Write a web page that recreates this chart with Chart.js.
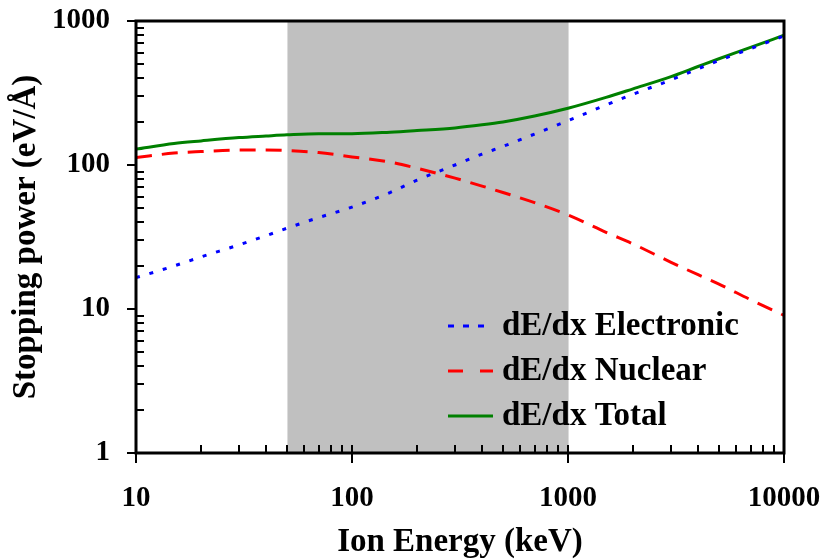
<!DOCTYPE html>
<html>
<head>
<meta charset="utf-8">
<script src="https://cdn.jsdelivr.net/npm/chart.js@4"></script>
<style>
  html, body { margin: 0; padding: 0; background: #fff; }
  canvas { display: block; }
</style>
</head>
<body>
<canvas id="chart" width="825" height="560"></canvas>
<script>
// Ion energy (keV) and stopping power (eV/Å) for each loss channel
const energies   = [10, 15, 20, 30, 40, 50, 70, 100, 150, 200, 300, 400, 500, 700, 1000, 1500, 2000, 3000, 4000, 5000, 7000, 10000];
const electronic = [16.5, 19.9, 23.0, 27.9, 32.3, 36.4, 43.1, 51.0, 64.4, 78.5, 100, 119, 134.6, 164, 203, 261, 310, 390, 466, 532, 643, 788];
const nuclear    = [112.5, 121, 124, 127, 127, 126, 122, 113.8, 104.7, 95, 81, 71.4, 64.4, 54.8, 45, 34.1, 28.3, 21.1, 17.3, 14.9, 11.6, 9.04];
const total      = [129, 141, 147, 155, 159, 162, 165, 165, 169, 173.5, 181, 190, 199, 219, 248, 295, 338, 411, 483, 547, 655, 797];

const seriesNames = ['dE/dx Electronic', 'dE/dx Nuclear', 'dE/dx Total'];
const xTicks = [10, 100, 1000, 10000];
const yTicks = [1, 10, 100, 1000];
const shadedRange = [50, 1000];

const serif = '"Liberation Serif", "Times New Roman", serif';

function points(values) {
  return energies.map((e, i) => ({ x: e, y: values[i] }));
}

// grey band behind the curves, with light edges
const shadePlugin = {
  id: 'shade',
  beforeDatasetsDraw(chart) {
    const { ctx, chartArea: a, scales: { x } } = chart;
    const x0 = Math.round(x.getPixelForValue(shadedRange[0]));
    const x1 = Math.round(x.getPixelForValue(shadedRange[1]));
    ctx.save();
    ctx.fillStyle = '#c0c0c0';
    ctx.fillRect(x0, a.top, x1 - x0, a.bottom - a.top);
    ctx.strokeStyle = '#dcdcdc';
    ctx.lineWidth = 1;
    ctx.beginPath();
    ctx.moveTo(x0 + 0.5, a.top);
    ctx.lineTo(x0 + 0.5, a.bottom);
    ctx.moveTo(x1 + 0.5, a.top);
    ctx.lineTo(x1 + 0.5, a.bottom);
    ctx.stroke();
    ctx.restore();
  }
};

// frame, major ticks outside, minor ticks inside, decade labels on the value axis
const framePlugin = {
  id: 'frame',
  afterDatasetsDraw(chart) {
    const { ctx, chartArea: a, scales: { x, y } } = chart;
    ctx.save();
    ctx.strokeStyle = '#000';
    ctx.lineWidth = 3;
    ctx.beginPath();
    ctx.rect(a.left, a.top, a.right - a.left, a.bottom - a.top);
    ctx.stroke();

    ctx.lineWidth = 2;
    ctx.beginPath();
    yTicks.forEach(v => {
      const py = Math.round(y.getPixelForValue(v));
      ctx.moveTo(a.left - 9, py);
      ctx.lineTo(a.left, py);
    });
    yTicks.slice(0, -1).forEach(d => {
      for (let m = 2; m <= 9; m++) {
        const py = Math.round(y.getPixelForValue(d * m));
        ctx.moveTo(a.left, py);
        ctx.lineTo(a.left + 8, py);
      }
    });
    xTicks.forEach(v => {
      const px = Math.round(x.getPixelForValue(v));
      ctx.moveTo(px, a.bottom - 8);
      ctx.lineTo(px, a.bottom + 10);
    });
    xTicks.slice(0, -1).forEach(d => {
      for (let m = 2; m <= 9; m++) {
        const px = Math.round(x.getPixelForValue(d * m));
        ctx.moveTo(px, a.bottom - 8);
        ctx.lineTo(px, a.bottom);
      }
    });
    ctx.stroke();

    ctx.fillStyle = '#000';
    ctx.font = 'bold 29px ' + serif;
    ctx.textAlign = 'right';
    ctx.textBaseline = 'middle';
    yTicks.forEach(v => {
      ctx.fillText(String(v), a.left - 26, y.getPixelForValue(v));
    });
    ctx.restore();
  }
};

// legend drawn inside the plot, lower right
const legendPlugin = {
  id: 'insideLegend',
  afterDatasetsDraw(chart) {
    const { ctx } = chart;
    const x0 = 448, x1 = 493, tx = 502, y0 = 326, dy = 45;
    ctx.save();
    chart.data.datasets.forEach((ds, i) => {
      const yy = y0 + i * dy;
      ctx.strokeStyle = ds.borderColor;
      ctx.lineWidth = 3;
      ctx.setLineDash(ds.legendDash || []);
      ctx.beginPath();
      ctx.moveTo(x0, yy);
      ctx.lineTo(x1, yy);
      ctx.stroke();
      ctx.setLineDash([]);
      ctx.fillStyle = '#000';
      ctx.font = 'bold 33px ' + serif;
      ctx.textBaseline = 'middle';
      ctx.textAlign = 'left';
      ctx.fillText(ds.label, tx, yy);
    });
    ctx.restore();
  }
};

const tickFont = { family: serif, size: 29, weight: 'bold' };
const titleFont = { family: serif, size: 33, weight: 'bold', lineHeight: 1 };

new Chart(document.getElementById('chart'), {
  type: 'line',
  data: {
    datasets: [
      {
        label: seriesNames[0], data: points(electronic),
        borderColor: '#0000ff', borderWidth: 3, borderDash: [4, 10],
        legendDash: [6, 9]
      },
      {
        label: seriesNames[1], data: points(nuclear),
        borderColor: '#ff0000', borderWidth: 3, borderDash: [16, 10],
        legendDash: [15, 17]
      },
      {
        label: seriesNames[2], data: points(total),
        borderColor: '#008000', borderWidth: 3, borderDash: [],
        legendDash: []
      }
    ]
  },
  options: {
    responsive: false,
    animation: false,
    devicePixelRatio: 1,
    layout: { padding: { top: 21, right: 41, left: 0, bottom: 0 } },
    elements: {
      point: { radius: 0 },
      line: { cubicInterpolationMode: 'monotone', borderCapStyle: 'butt' }
    },
    plugins: { legend: { display: false }, tooltip: { enabled: false } },
    scales: {
      x: {
        type: 'logarithmic', position: 'bottom', min: 10, max: 10000,
        afterBuildTicks: s => { s.ticks = xTicks.map(v => ({ value: v })); },
        afterFit: s => { s.height = 107; s.paddingLeft = 0; s.paddingRight = 0; },
        grid: { display: false, drawTicks: false },
        border: { display: false },
        ticks: {
          font: tickFont, color: '#000', padding: 28, maxRotation: 0, autoSkip: false,
          callback: v => String(v)
        },
        title: { display: true, text: 'Ion Energy (keV)', font: titleFont, color: '#000', padding: { bottom: 1.5, top: 0 } }
      },
      y: {
        type: 'logarithmic', position: 'left', min: 1, max: 1000,
        afterBuildTicks: s => { s.ticks = yTicks.map(v => ({ value: v })); },
        afterFit: s => { s.width = 136; s.paddingTop = 0; s.paddingBottom = 0; },
        grid: { display: false, drawTicks: false },
        border: { display: false },
        ticks: { display: false },
        title: { display: true, text: 'Stopping power (eV/Å)', font: titleFont, color: '#000', padding: { top: 9.5, bottom: 0 } }
      }
    }
  },
  plugins: [shadePlugin, framePlugin, legendPlugin]
});
</script>
</body>
</html>
